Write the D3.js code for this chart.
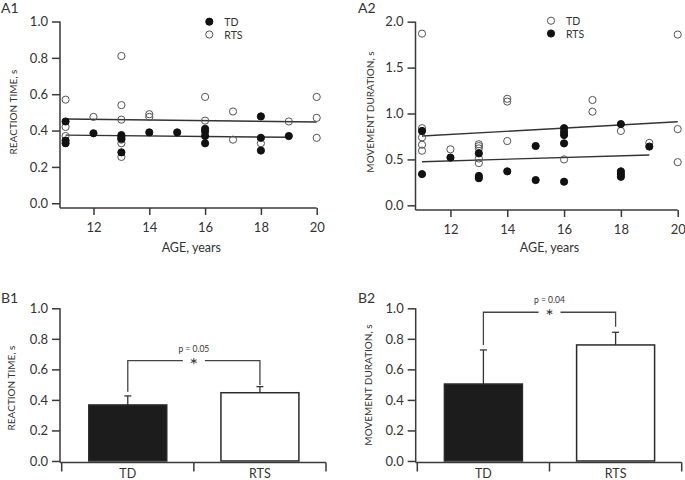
<!DOCTYPE html>
<html><head><meta charset="utf-8">
<script src="https://cdn.jsdelivr.net/npm/d3@7"></script>
<style>body{margin:0;background:#fff}svg{display:block}text{font-family:Lato,"Open Sans",sans-serif;fill:#333}</style>
</head><body>
<svg id="c" width="685" height="480"></svg>
<script>
// ---------- DATA ----------
// A1: reaction time vs age
const a1TD_age = [11,11,11,12,13,13,13,13,14,15,16,16,16,16,18,18,18,19];
const a1TD_val = [0.45,0.345,0.33,0.385,0.375,0.365,0.355,0.28,0.39,0.39,0.41,0.395,0.37,0.33,0.478,0.36,0.29,0.37];
const a1RTS_age = [11,11,11,12,13,13,13,13,13,13,14,14,16,16,17,17,18,19,20,20,20];
const a1RTS_val = [0.57,0.42,0.37,0.475,0.81,0.54,0.46,0.35,0.33,0.255,0.49,0.475,0.585,0.455,0.505,0.35,0.33,0.45,0.585,0.47,0.36];
const a1TD_fit = [[11,0.375],[19,0.363]];
const a1RTS_fit = [[11,0.464],[20,0.447]];
// A2: movement duration vs age
const a2Open_age = [11,11,11,11,11,12,13,13,13,13,13,14,14,14,16,17,17,18,19,20,20,20];
const a2Open_val = [1.87,0.84,0.74,0.66,0.595,0.61,0.665,0.645,0.62,0.51,0.46,1.16,1.13,0.70,0.50,1.147,1.02,0.81,0.68,1.86,0.83,0.47];
const a2Fill_age = [11,11,12,13,13,13,14,15,15,16,16,16,16,16,18,18,18,18,19];
const a2Fill_val = [0.81,0.34,0.52,0.566,0.32,0.295,0.37,0.646,0.275,0.84,0.80,0.766,0.675,0.257,0.885,0.37,0.34,0.31,0.64];
const a2Open_fit = [[11,0.755],[20,0.91]];
const a2Fill_fit = [[11,0.475],[19,0.548]];
const ageTicks = [12,14,16,18,20];
// B: group means
const groups = ["TD","RTS"];
const b1Mean = [0.367,0.447], b1Err = [0.426,0.487];
const b2Mean = [0.504,0.76], b2Err = [0.727,0.843];
const b1Bracket = {y:0.657, legs:[0.454,0.498], p:"p = 0.05"};
const b2Bracket = {y:0.974, legs:[0.76,0.879], p:"p = 0.04"};

const svg = d3.select("#c");
const AX = "#3a3a3a";

function styleAxis(g){
  g.selectAll(".domain").attr("stroke",AX).attr("stroke-width",1.5);
  g.selectAll(".tick line").attr("stroke",AX).attr("stroke-width",1.5);
  g.selectAll(".tick text").style("font-size","13px").attr("fill","#333").style("font-family","Lato,'Open Sans',sans-serif");
}

function scatter(o){
  const x = d3.scaleLinear().domain(o.xd).range(o.xr);
  const y = d3.scaleLinear().domain(o.yd).range(o.yr);
  const g = svg.append("g");
  const ya = g.append("g").attr("transform",`translate(${o.xr[0]},0)`)
    .call(d3.axisLeft(y).tickValues(o.yt).tickFormat(d3.format(".1f")).tickSizeOuter(0).tickSize(8).tickPadding(4));
  ya.select(".domain").attr("d",`M0,${y(o.yt[o.yt.length-1])}V${o.yr[0]}`);
  styleAxis(ya);
  const xa = g.append("g").attr("transform",`translate(0,${o.yr[0]})`)
    .call(d3.axisBottom(x).tickValues(ageTicks).tickFormat(d3.format("d")).tickSizeOuter(0).tickSize(7).tickPadding(8));
  xa.select(".domain").attr("d",`M${o.xr[0]},0H${x(20)}`);
  styleAxis(xa);
  // fits
  const line = d3.line().x(d=>x(d[0])).y(d=>y(d[1]));
  o.fits.forEach(f=>g.append("path").attr("d",line(f)).attr("fill","none").attr("stroke","#333").attr("stroke-width",1.4));
  // points
  o.series.forEach(s=>{
    g.selectAll(null).data(s.age.map((a,i)=>[a,s.val[i]])).enter().append("circle")
      .attr("cx",d=>x(d[0])).attr("cy",d=>y(d[1])).attr("r",3.6)
      .attr("fill",s.filled?"#111":"#fff").attr("fill-opacity",s.filled?1:0)
      .attr("stroke",s.filled?"#111":"#555").attr("stroke-width",1);
  });
  // legend
  o.legend.forEach((l,i)=>{
    g.append("circle").attr("cx",o.lx).attr("cy",o.ly+i*12.8).attr("r",3.6)
      .attr("fill",l.filled?"#111":"none").attr("stroke",l.filled?"#111":"#555").attr("stroke-width",1);
    g.append("text").attr("x",o.lx+15).attr("y",o.ly+i*12.8+4).text(l.t).style("font-size","10.5px");
  });
  g.append("text").attr("x",o.xlab).attr("y",251.7).attr("text-anchor","middle").text("AGE, years").style("font-size","12.5px");
  g.append("text").attr("transform",`translate(${o.ylx},${o.yly}) rotate(-90)`).attr("text-anchor","middle").text(o.ylab).style("font-size","10px");
  svg.append("text").attr("x",o.px).attr("y",12.7).text(o.panel).style("font-size","14px");
}

scatter({xd:[10.8,20], xr:[60,316.7], yd:[-0.026,1], yr:[208,21.5], yt:[0,0.2,0.4,0.6,0.8,1.0],
  fits:[a1TD_fit,a1RTS_fit],
  series:[{age:a1RTS_age,val:a1RTS_val,filled:false},{age:a1TD_age,val:a1TD_val,filled:true}],
  legend:[{t:"TD",filled:true},{t:"RTS",filled:false}], lx:209.3, ly:21.7,
  xlab:191.3, ylab:"REACTION TIME, s", ylx:16.5, yly:112, panel:"A1", px:1});
scatter({xd:[10.77,20], xr:[415.5,677.7], yd:[-0.051,2], yr:[210,21.7], yt:[0,0.5,1.0,1.5,2.0],
  fits:[a2Open_fit,a2Fill_fit],
  series:[{age:a2Open_age,val:a2Open_val,filled:false},{age:a2Fill_age,val:a2Fill_val,filled:true}],
  legend:[{t:"TD",filled:false},{t:"RTS",filled:true}], lx:551, ly:20.7,
  xlab:549.5, ylab:"MOVEMENT DURATION, s", ylx:373.5, yly:112, panel:"A2", px:358});

function bars(o){
  const x = d3.scaleBand().domain(groups).range(o.xr).paddingInner(0.41).paddingOuter(0.205);
  const y = d3.scaleLinear().domain([-0.01,1]).range([462.5,308.3]);
  const g = svg.append("g");
  const ya = g.append("g").attr("transform",`translate(${o.ax},0)`)
    .call(d3.axisLeft(y).tickValues([0,0.2,0.4,0.6,0.8,1.0]).tickFormat(d3.format(".1f")).tickSizeOuter(0).tickSize(8).tickPadding(4));
  ya.select(".domain").attr("d",`M0,${y(1)}V${y(-0.01)}`);
  styleAxis(ya);
  const base = y(-0.01);
  g.append("path").attr("d",`M${o.ax},${base}H${o.xr[1]}`).attr("stroke",AX).attr("stroke-width",1.5);
  const bounds = [o.xr[0], o.xr[0]+x.step(), o.xr[1]];
  bounds.forEach(b=>g.append("line").attr("x1",b).attr("x2",b).attr("y1",base).attr("y2",base+9).attr("stroke",AX).attr("stroke-width",1.5));
  groups.forEach((gname,i)=>{
    const cx = x(gname)+x.bandwidth()/2;
    g.append("line").attr("x1",cx).attr("x2",cx).attr("y1",y(o.mean[i])).attr("y2",y(o.err[i])).attr("stroke","#333").attr("stroke-width",1.3);
    g.append("line").attr("x1",cx-3.5).attr("x2",cx+3.5).attr("y1",y(o.err[i])).attr("y2",y(o.err[i])).attr("stroke","#333").attr("stroke-width",1.3);
    g.append("rect").attr("x",x(gname)).attr("width",x.bandwidth()).attr("y",y(o.mean[i])).attr("height",y(0)-y(o.mean[i]))
      .attr("fill",i===0?"#1c1c1c":"#fff").attr("stroke","#2a2a2a").attr("stroke-width",1.5);
    g.append("text").attr("x",cx).attr("y",478).attr("text-anchor","middle").text(gname).style("font-size","12.5px");
  });
  const c0 = x(groups[0])+x.bandwidth()/2, c1 = x(groups[1])+x.bandwidth()/2, mid=(c0+c1)/2;
  const by = y(o.br.y);
  g.append("path").attr("d",`M${c0},${y(o.br.legs[0])}V${by}H${mid-11}M${mid+11},${by}H${c1}V${y(o.br.legs[1])}`)
    .attr("fill","none").attr("stroke","#444").attr("stroke-width",1.3);
  g.append("text").attr("x",mid).attr("y",by+11).attr("text-anchor","middle").text("*").style("font-size","20px");
  g.append("text").attr("x",mid).attr("y",by-9).attr("text-anchor","middle").text(o.br.p).style("font-size","8.5px");
  g.append("text").attr("transform",`translate(${o.ylx},${o.yly}) rotate(-90)`).attr("text-anchor","middle").text(o.ylab).style("font-size","10px");
  svg.append("text").attr("x",o.px).attr("y",303.3).text(o.panel).style("font-size","14px");
}
bars({xr:[61.7,326], ax:60, mean:b1Mean, err:b1Err, br:b1Bracket, ylab:"REACTION TIME, s", ylx:14.5, yly:388, panel:"B1", px:1});
bars({xr:[417.3,681.7], ax:415.7, mean:b2Mean, err:b2Err, br:b2Bracket, ylab:"MOVEMENT DURATION, s", ylx:371.5, yly:385, panel:"B2", px:358});
</script>
</body></html>
